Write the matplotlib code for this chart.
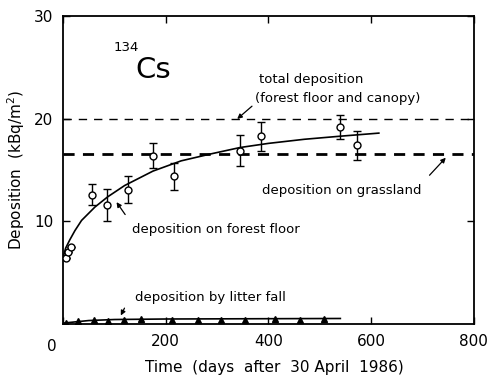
import numpy as np
import matplotlib.pyplot as plt

# forest floor measurements (days after 30 April 1986, kBq/m2)
floor_days = [6, 10, 15, 56, 85, 126, 175, 216, 345, 385, 539, 573]
floor_vals = [6.4, 7.0, 7.5, 12.6, 11.6, 13.1, 16.4, 14.4, 16.9, 18.3, 19.2, 17.4]
floor_err = [0.0, 0.0, 0.0, 1.0, 1.6, 1.3, 1.2, 1.3, 1.5, 1.4, 1.2, 1.45]

# fitted curve
fit_days = [0, 5, 13, 23, 36, 62, 87, 120, 175, 230, 290, 345, 400, 470, 540, 615]
fit_vals = [6.5, 7.4, 8.2, 9.1, 10.1, 11.4, 12.4, 13.5, 14.9, 15.9, 16.6, 17.2, 17.6, 18.0, 18.3, 18.6]

# litter fall
litter_days = [6, 30, 61, 88, 118, 151, 212, 263, 308, 354, 412, 462, 509]
litter_vals = [0.1, 0.35, 0.4, 0.35, 0.4, 0.5, 0.45, 0.45, 0.45, 0.45, 0.5, 0.45, 0.5]
litter_fit_days = [0, 50, 100, 200, 540]
litter_fit_vals = [0.1, 0.35, 0.45, 0.5, 0.55]

total_level = 20.0
grass_level = 16.6

xticks = [0, 200, 400, 600, 800]
xticklabels = ["", "200", "400", "600", "800"]
yticks = [10, 20, 30]

fig = plt.figure(figsize=(4.89, 3.91), dpi=100)
ax = fig.add_axes([0.129, 0.171, 0.840, 0.788])

ax.axhline(total_level, color="black", lw=1.0, ls=(0, (6, 5)))
ax.axhline(grass_level, color="black", lw=2.0, ls=(0, (4, 3)))

ax.plot(fit_days, fit_vals, color="black", lw=1.2)
ax.errorbar(floor_days, floor_vals, yerr=floor_err, fmt="o", mfc="white",
            mec="black", ecolor="black", ms=5, capsize=3, elinewidth=1.0,
            capthick=1.0, zorder=3)

ax.plot(litter_fit_days, litter_fit_vals, color="black", lw=1.2)
ax.plot(litter_days, litter_vals, "^", color="black", ms=4, zorder=3)

ax.set_xlim(0, 800)
ax.set_ylim(0, 30)
ax.set_xticks(xticks)
ax.set_xticklabels(xticklabels)
ax.set_yticks(yticks)
ax.tick_params(direction="in", top=True, right=True, length=5, width=1,
               labelsize=11, pad=7)
for s in ax.spines.values():
    s.set_linewidth(1.3)

ax.set_xlabel("Time  (days  after  30 April  1986)", fontsize=11, labelpad=8)
ax.xaxis.set_label_coords(0.515, -0.115)
ax.set_ylabel("Deposition  (kBq/m$^2$)", fontsize=11, labelpad=5)
# the origin label sits left of the axis corner
ax.text(-22, -1.45, "0", fontsize=11, ha="center", va="top")

# isotope label
ax.text(98, 26.3, "134", fontsize=9.5, ha="left", va="bottom")
ax.text(140, 23.4, "Cs", fontsize=21, ha="left", va="bottom")

fs = 9.5
ax.text(381, 23.8, "total deposition", fontsize=fs, va="center")
ax.text(373, 22.0, "(forest floor and canopy)", fontsize=fs, va="center")
ax.text(387, 13.0, "deposition on grassland", fontsize=fs, va="center")
ax.text(134, 9.25, "deposition on forest floor", fontsize=fs, va="center")
ax.text(140, 2.6, "deposition by litter fall", fontsize=fs, va="center")

arrow = dict(arrowstyle="-|>", color="black", lw=0.9, mutation_scale=7)
ax.annotate("", xy=(335, 19.8), xytext=(372, 21.4), arrowprops=arrow)
ax.annotate("", xy=(749, 16.4), xytext=(710, 14.3), arrowprops=arrow)
ax.annotate("", xy=(101, 12.1), xytext=(124, 10.45), arrowprops=arrow)
ax.annotate("", xy=(110, 0.6), xytext=(122, 1.8), arrowprops=arrow)

fig.savefig("out.png", dpi=100)
